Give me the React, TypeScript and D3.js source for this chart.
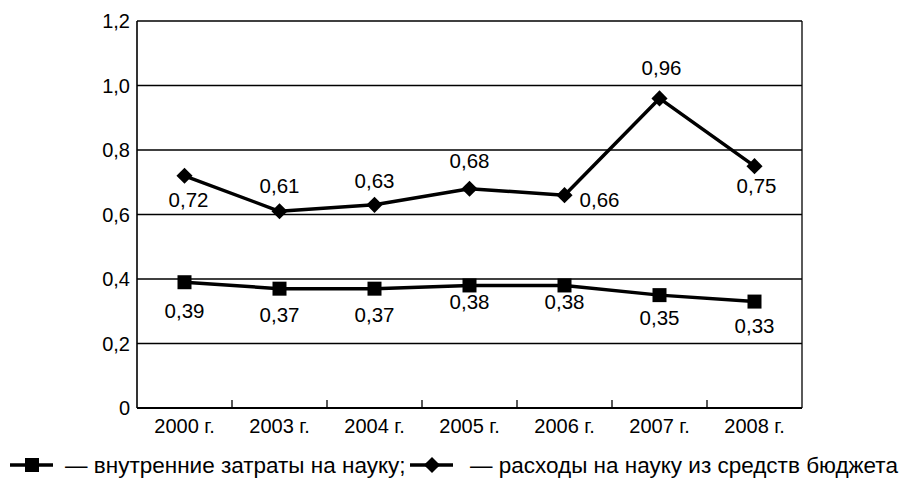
import React, { useEffect, useRef } from 'react';
import * as d3 from 'd3';

const years: string[] = ['2000 г.', '2003 г.', '2004 г.', '2005 г.', '2006 г.', '2007 г.', '2008 г.'];
const internal: number[] = [0.39, 0.37, 0.37, 0.38, 0.38, 0.35, 0.33];
const budget: number[] = [0.72, 0.61, 0.63, 0.68, 0.66, 0.96, 0.75];
const yTicks: number[] = [0, 0.2, 0.4, 0.6, 0.8, 1.0, 1.2];
const legendInternal = '— внутренние затраты на науку;';
const legendBudget = '— расходы на науку из средств бюджета';

// label placement (offsets from the point, px)
const internalLabelDy: number[] = [36, 33, 33, 24, 24, 30, 31];
const budgetLabelDx: number[] = [4, 0, 0, 0, 35, 2, 2];
const budgetLabelDy: number[] = [31, -18, -17, -21, 12, -23, 27];

const fmtTick = (v: number) => (v === 0 ? '0' : v.toFixed(1).replace('.', ','));
const fmtVal = (v: number) => v.toFixed(2).replace('.', ',');

const App = () => {
  const ref = useRef<SVGSVGElement>(null);

  useEffect(() => {
    const svg = d3.select(ref.current);
    svg.selectAll('*').remove();

    const left = 137;
    const right = 802;
    const top = 21;
    const bottom = 408;
    const font = '"Liberation Sans", Arial, sans-serif';

    const x = d3.scaleBand<string>().domain(years).range([left, right]);
    const y = d3.scaleLinear().domain([0, 1.2]).range([bottom, top]);
    const cx = (d: string) => x(d)! + x.bandwidth() / 2;

    // grid
    svg
      .append('g')
      .selectAll('line')
      .data(yTicks.filter(t => t > 0))
      .join('line')
      .attr('x1', left)
      .attr('x2', right)
      .attr('y1', d => y(d))
      .attr('y2', d => y(d))
      .attr('stroke', '#000')
      .attr('stroke-width', 1.3);

    // frame
    svg
      .append('line')
      .attr('x1', right)
      .attr('x2', right)
      .attr('y1', top)
      .attr('y2', bottom)
      .attr('stroke', '#000')
      .attr('stroke-width', 1.3);
    svg
      .append('line')
      .attr('x1', left)
      .attr('x2', left)
      .attr('y1', top)
      .attr('y2', bottom)
      .attr('stroke', '#000')
      .attr('stroke-width', 1.6);
    svg
      .append('line')
      .attr('x1', left)
      .attr('x2', right)
      .attr('y1', bottom)
      .attr('y2', bottom)
      .attr('stroke', '#000')
      .attr('stroke-width', 2);

    // x ticks at category boundaries
    svg
      .append('g')
      .selectAll('line')
      .data(years.slice(1))
      .join('line')
      .attr('x1', d => x(d)!)
      .attr('x2', d => x(d)!)
      .attr('y1', bottom)
      .attr('y2', bottom - 8)
      .attr('stroke', '#000')
      .attr('stroke-width', 1.3);

    // y labels
    svg
      .append('g')
      .selectAll('text')
      .data(yTicks)
      .join('text')
      .attr('x', left - 7)
      .attr('y', d => y(d))
      .attr('dy', '0.35em')
      .attr('text-anchor', 'end')
      .style('font-family', font)
      .style('font-size', '20px')
      .text(d => fmtTick(d));

    // x labels
    svg
      .append('g')
      .selectAll('text')
      .data(years)
      .join('text')
      .attr('x', d => cx(d))
      .attr('y', 433)
      .attr('text-anchor', 'middle')
      .style('font-family', font)
      .style('font-size', '20px')
      .text(d => d);

    const line = d3
      .line<number>()
      .x((_, i) => cx(years[i]))
      .y(d => y(d));

    [internal, budget].forEach(series => {
      svg
        .append('path')
        .datum(series)
        .attr('fill', 'none')
        .attr('stroke', '#000')
        .attr('stroke-width', 3.5)
        .attr('stroke-linejoin', 'round')
        .attr('d', line);
    });

    const square = d3.symbol().type(d3.symbolSquare).size(196);
    const diamond = d3.symbol().type(d3.symbolSquare).size(130);

    svg
      .append('g')
      .selectAll('path')
      .data(internal)
      .join('path')
      .attr('transform', (d, i) => `translate(${cx(years[i])},${y(d)})`)
      .attr('d', square());

    svg
      .append('g')
      .selectAll('path')
      .data(budget)
      .join('path')
      .attr('transform', (d, i) => `translate(${cx(years[i])},${y(d)}) rotate(45)`)
      .attr('d', diamond());

    // data labels
    svg
      .append('g')
      .selectAll('text')
      .data(internal)
      .join('text')
      .attr('x', (_, i) => cx(years[i]))
      .attr('y', (d, i) => y(d) + internalLabelDy[i])
      .attr('text-anchor', 'middle')
      .style('font-family', font)
      .style('font-size', '20.5px')
      .text(d => fmtVal(d));

    svg
      .append('g')
      .selectAll('text')
      .data(budget)
      .join('text')
      .attr('x', (_, i) => cx(years[i]) + budgetLabelDx[i])
      .attr('y', (d, i) => y(d) + budgetLabelDy[i])
      .attr('text-anchor', 'middle')
      .style('font-family', font)
      .style('font-size', '20.5px')
      .text(d => fmtVal(d));

    // legend
    const ly = 465;
    const lg = svg.append('g');
    lg.append('line')
      .attr('x1', 10)
      .attr('x2', 53)
      .attr('y1', ly)
      .attr('y2', ly)
      .attr('stroke', '#000')
      .attr('stroke-width', 3.5);
    lg.append('path').attr('transform', `translate(32,${ly})`).attr('d', square());
    lg.append('text')
      .attr('x', 65)
      .attr('y', 473)
      .style('font-family', font)
      .style('font-size', '22.5px')
      .text(legendInternal);
    lg.append('line')
      .attr('x1', 410)
      .attr('x2', 453)
      .attr('y1', ly)
      .attr('y2', ly)
      .attr('stroke', '#000')
      .attr('stroke-width', 3.5);
    lg.append('path').attr('transform', `translate(432,${ly}) rotate(45)`).attr('d', diamond());
    lg.append('text')
      .attr('x', 470)
      .attr('y', 473)
      .style('font-family', font)
      .style('font-size', '22.5px')
      .text(legendBudget);
  }, []);

  return (
    <svg
      ref={ref}
      width={902}
      height={479}
      style={{ position: 'absolute', left: 0, top: 0, background: '#fff' }}
    />
  );
};

export default App;
